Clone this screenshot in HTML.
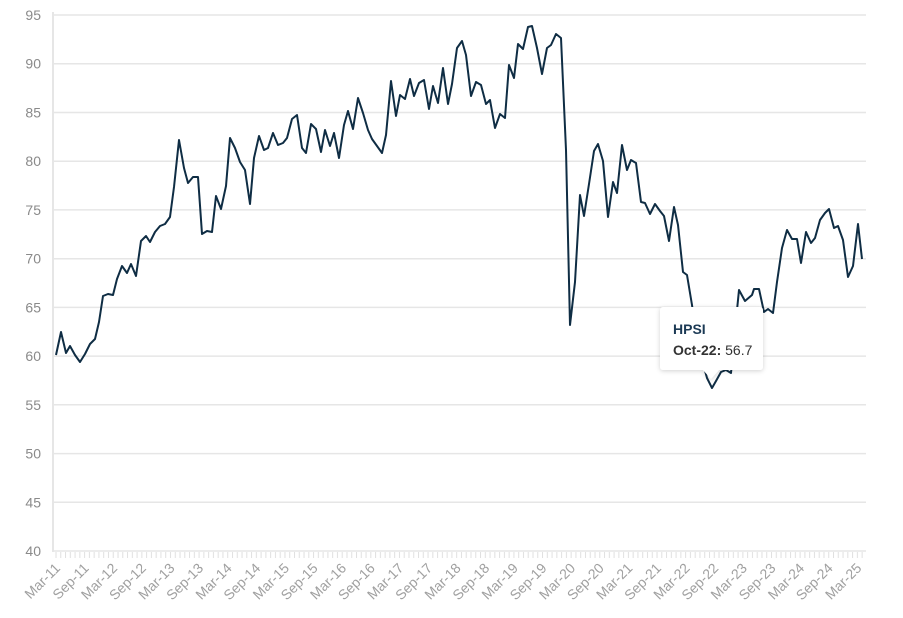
<!DOCTYPE html>
<html><head><meta charset="utf-8"><style>
body{margin:0;background:#fff;width:903px;height:613px;overflow:hidden;font-family:"Liberation Sans",sans-serif}
</style></head><body>
<svg width="903" height="613" xmlns="http://www.w3.org/2000/svg" font-family="Liberation Sans, sans-serif">
<defs>
<filter id="sh" x="-20%" y="-20%" width="140%" height="160%"><feDropShadow dx="0" dy="1" stdDeviation="2.5" flood-color="#000" flood-opacity="0.18"/></filter>
<pattern id="tk" x="55.5" y="0" width="4.77" height="10" patternUnits="userSpaceOnUse"><rect x="0" y="0" width="1" height="10" fill="#e0e0e0"/></pattern>
</defs>
<g stroke="#e6e6e6" stroke-width="1.5">
<line x1="53" x2="866" y1="15" y2="15"/><line x1="53" x2="866" y1="63.7" y2="63.7"/><line x1="53" x2="866" y1="112.5" y2="112.5"/><line x1="53" x2="866" y1="161.2" y2="161.2"/><line x1="53" x2="866" y1="209.9" y2="209.9"/><line x1="53" x2="866" y1="258.7" y2="258.7"/><line x1="53" x2="866" y1="307.4" y2="307.4"/><line x1="53" x2="866" y1="356.1" y2="356.1"/><line x1="53" x2="866" y1="404.8" y2="404.8"/><line x1="53" x2="866" y1="453.6" y2="453.6"/><line x1="53" x2="866" y1="502.3" y2="502.3"/><line x1="53" x2="866" y1="551" y2="551"/>
</g>
<line x1="53" y1="12" x2="53" y2="552" stroke="#e6e6e6" stroke-width="2"/>
<g font-size="14" fill="#8a8a8a" text-anchor="end">
<text x="41" y="20">95</text><text x="41" y="68.7">90</text><text x="41" y="117.5">85</text><text x="41" y="166.2">80</text><text x="41" y="214.9">75</text><text x="41" y="263.7">70</text><text x="41" y="312.4">65</text><text x="41" y="361.1">60</text><text x="41" y="409.8">55</text><text x="41" y="458.6">50</text><text x="41" y="507.3">45</text><text x="41" y="556">40</text>
</g>
<rect x="55" y="552" width="810" height="6" fill="url(#tk)"/>
<g font-size="14" fill="#a0a0a0" text-anchor="end">
<text x="61" y="569" transform="rotate(-45 61 569)">Mar-11</text>
<text x="89.6" y="569" transform="rotate(-45 89.6 569)">Sep-11</text>
<text x="118.2" y="569" transform="rotate(-45 118.2 569)">Mar-12</text>
<text x="146.9" y="569" transform="rotate(-45 146.9 569)">Sep-12</text>
<text x="175.5" y="569" transform="rotate(-45 175.5 569)">Mar-13</text>
<text x="204.1" y="569" transform="rotate(-45 204.1 569)">Sep-13</text>
<text x="232.7" y="569" transform="rotate(-45 232.7 569)">Mar-14</text>
<text x="261.3" y="569" transform="rotate(-45 261.3 569)">Sep-14</text>
<text x="290" y="569" transform="rotate(-45 290 569)">Mar-15</text>
<text x="318.6" y="569" transform="rotate(-45 318.6 569)">Sep-15</text>
<text x="347.2" y="569" transform="rotate(-45 347.2 569)">Mar-16</text>
<text x="375.8" y="569" transform="rotate(-45 375.8 569)">Sep-16</text>
<text x="404.4" y="569" transform="rotate(-45 404.4 569)">Mar-17</text>
<text x="433.1" y="569" transform="rotate(-45 433.1 569)">Sep-17</text>
<text x="461.7" y="569" transform="rotate(-45 461.7 569)">Mar-18</text>
<text x="490.3" y="569" transform="rotate(-45 490.3 569)">Sep-18</text>
<text x="518.9" y="569" transform="rotate(-45 518.9 569)">Mar-19</text>
<text x="547.5" y="569" transform="rotate(-45 547.5 569)">Sep-19</text>
<text x="576.2" y="569" transform="rotate(-45 576.2 569)">Mar-20</text>
<text x="604.8" y="569" transform="rotate(-45 604.8 569)">Sep-20</text>
<text x="633.4" y="569" transform="rotate(-45 633.4 569)">Mar-21</text>
<text x="662" y="569" transform="rotate(-45 662 569)">Sep-21</text>
<text x="690.6" y="569" transform="rotate(-45 690.6 569)">Mar-22</text>
<text x="719.3" y="569" transform="rotate(-45 719.3 569)">Sep-22</text>
<text x="747.9" y="569" transform="rotate(-45 747.9 569)">Mar-23</text>
<text x="776.5" y="569" transform="rotate(-45 776.5 569)">Sep-23</text>
<text x="805.1" y="569" transform="rotate(-45 805.1 569)">Mar-24</text>
<text x="833.7" y="569" transform="rotate(-45 833.7 569)">Sep-24</text>
<text x="862.4" y="569" transform="rotate(-45 862.4 569)">Mar-25</text>
</g>
<polyline fill="none" stroke="#0f2d44" stroke-width="2" stroke-linejoin="round" points="56,355 61,332 66,353 70,346 75,355 80,362 85,354 90,344 95,339 99,322 103,296 108,294 113,295 117,279 122,266 127,273 131,264 136,276 141,241 146,236 150,242 155,232 160,226 165,224 170,217 174,187 179,140 184,168 188,183 193,177 198,177 202,234 207,231 212,232 216,196 221,209 226,186 230,138 235,148 240,162 245,170 250,204 254,158 259,136 264,150 268,148 273,133 278,145 283,143 287,138 292,119 297,115 302,148 306,153 311,124 316,129 321,152 325,130 330,146 334,133 339,158 344,125 348,111 353,129 358,98 363,113 368,130 372,139 377,146 382,153 386,135 391,81 396,116 400,95 405,99 410,79 414,96 419,83 424,80 429,109 433,86 438,103 443,68 448,104 452,84 457,48 462,41 466,55 471,96 476,82 481,85 486,104 490,100 495,128 500,114 505,118 509,65 514,78 518,44 523,49 528,27 532,26 537,48 542,74 547,48 551,45 556,34 561,38 566,150 570,325 575,282 580,195 584,216 589,184 594,151 598,144 603,161 608,217 613,182 617,193 622,145 627,170 631,160 636,163 641,202 645,203 650,214 655,204 660,211 664,216 669,241 674,207 678,225 683,272 687,275 692,305 697,340 702,360 707,378 712,388 716,381 721,372 726,370 731,373 735,330 739,290 745,301 752,295 754,289 759,289 764,312 768,309 773,313 777,282 782,248 787,230 792,239 797,239 801,263 806,232 811,243 815,238 820,220 825,213 829,209 834,228 838,226 843,240 848,277 853,266 858,224 862,259"/>
<g filter="url(#sh)">
<path d="M663,307 H760 a3,3 0 0 1 3,3 V367 a3,3 0 0 1 -3,3 H719 L711,379 L703,370 H663 a3,3 0 0 1 -3,-3 V310 a3,3 0 0 1 3,-3 Z" fill="#fff"/>
</g>
<text x="673" y="334" font-size="14" font-weight="bold" fill="#1c3a55">HPSI</text>
<text x="673" y="355" font-size="14" fill="#333"><tspan font-weight="bold">Oct-22:</tspan> 56.7</text>
</svg>
</body></html>
